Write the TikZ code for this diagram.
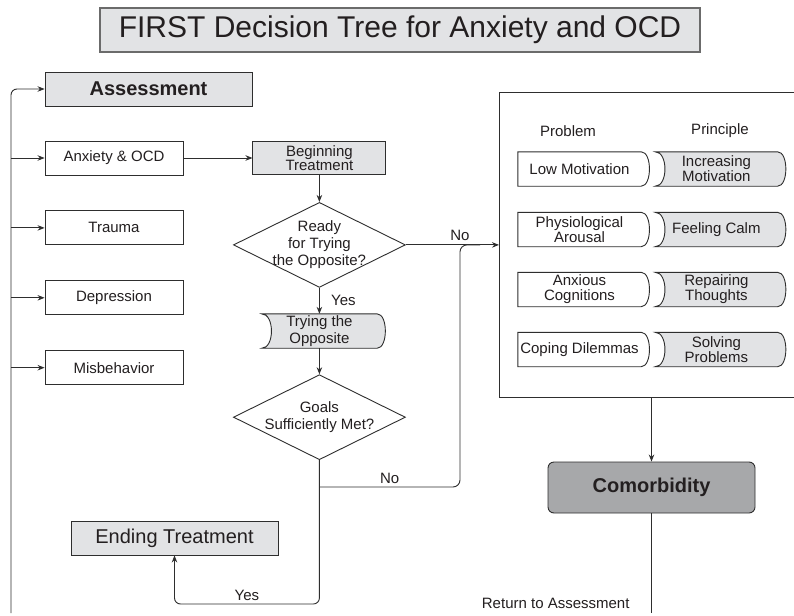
\documentclass[tikz,border=0pt]{standalone}
\usepackage{fontspec}
\setmainfont{Liberation Sans}
\usetikzlibrary{arrows.meta,positioning,shapes.geometric,backgrounds}

\definecolor{inkgray}{HTML}{231F20}
\definecolor{linegray}{HTML}{2E2E2E}
\definecolor{lightfill}{HTML}{E2E3E5}
\definecolor{darkfill}{HTML}{A7A8AA}

% outlines of the bowed boxes
\newcommand{\bowright}[1]{(#1.north west) -- (#1.north east)
    .. controls +(11,0) and +(11,0) .. (#1.south east)
    -- (#1.south west) -- cycle}
\newcommand{\bowboth}[1]{(#1.north west) -- (#1.north east)
    .. controls +(11,0) and +(11,0) .. (#1.south east)
    -- (#1.south west)
    .. controls +(13,0) and +(13,0) .. (#1.north west) -- cycle}

\begin{document}
\begin{tikzpicture}[
        x=1pt, y=-1pt,
        every node/.style={text=inkgray},
        lbl/.style={
            font=\fontsize{15pt}{17pt}\selectfont
        },
        line/.style={
            draw=linegray,
            line width=0.9pt
        },
        arr/.style={
            line,
            -{Stealth[length=7pt,width=5.5pt]}
        },
        box/.style={
            line,
            minimum width=138pt,
            minimum height=34pt,
            inner sep=1pt,
            align=center,
            lbl
        },
        hbox/.style={
            box,
            fill=lightfill
        },
        bigtext/.style={
            font=\fontsize{20pt}{24pt}\selectfont
        },
        decision/.style={
            diamond,
            line,
            minimum width=172pt,
            minimum height=85pt,
            inner sep=0pt
        },
        bowbox/.style={
            minimum width=123pt,
            minimum height=34pt,
            inner sep=1pt,
            align=center,
            font=\fontsize{15pt}{15pt}\selectfont
        },
        heading/.style={
            line width=1.6pt,
            draw=black!58,
            fill=lightfill,
            minimum width=600pt,
            minimum height=44pt,
            font=\fontsize{30pt}{36pt}\selectfont
        }
    ]

        \useasboundingbox (0,0) rectangle (794,615);

        \node[heading] (title) at (400,30)
            {FIRST Decision Tree for Anxiety and OCD};

        \node[hbox, bigtext, minimum width=207pt] (assess) at (148.5,89)
            {\bfseries Assessment};

        \node[box] (anx) at (114,158) {Anxiety \& OCD};
        \node[box, below=35pt of anx] (trauma) {Trauma};
        \node[box, below=35pt of trauma] (depr) {Depression};
        \node[box, below=35pt of depr] (misb) {Misbehavior};

        \node[hbox, right=69pt of anx, minimum width=133pt,
              minimum height=33pt, font=\fontsize{15pt}{14pt}\selectfont] (begin)
            {Beginning\\Treatment};

        \node[decision, below=27pt of begin,
              label={[align=center, lbl]center:Ready\\for Trying\\the Opposite?}] (ready) {};

        \node[bowbox, below=26pt of ready, minimum width=115pt,
              font=\fontsize{15pt}{17pt}\selectfont] (trying)
            {Trying the\\Opposite};

        \node[decision, below=26pt of trying,
              label={[align=center, lbl]center:Goals\\Sufficiently Met?}] (goals) {};

        \node[hbox, bigtext, minimum width=207pt] (ending) at (174.5,538)
            {Ending Treatment};

        % right panel
        \node[lbl] (probhead) at (568,131) {Problem};
        \node[lbl] (princhead) at (720,131) {Principle};

        \node[bowbox] (prob1) at (579.5,169) {Low Motivation};
        \node[bowbox] (prob2) at (579.5,229.5) {Physiological\\Arousal};
        \node[bowbox] (prob3) at (579.5,289.5) {Anxious\\Cognitions};
        \node[bowbox] (prob4) at (579.5,349.5) {Coping Dilemmas};

        \node[bowbox, right=14pt of prob1, minimum width=122pt] (princ1)
            {Increasing\\Motivation};
        \node[bowbox, right=14pt of prob2, minimum width=122pt] (princ2)
            {Feeling Calm};
        \node[bowbox, right=14pt of prob3, minimum width=122pt] (princ3)
            {Repairing\\Thoughts};
        \node[bowbox, right=14pt of prob4, minimum width=122pt] (princ4)
            {Solving\\Problems};

        \node[line, fill=darkfill, rounded corners=6pt, bigtext,
              minimum width=207pt, minimum height=51pt] (como) at (651.5,487.5)
            {\bfseries Comorbidity};

        \begin{scope}[on background layer]
            \fill[white] (0,0) rectangle (794,615);
            \foreach \n in {prob1,prob2,prob3,prob4}
                \draw[line, fill=white] \bowright{\n};
            \foreach \n in {trying,princ1,princ2,princ3,princ4}
                \draw[line, fill=lightfill] \bowboth{\n};
        \end{scope}

        \coordinate (loopL) at (11,613);
        \coordinate (panelNE) at (794,92);
        \coordinate (panelNW) at (499,92);
        \coordinate (panelSW) at (499,397);
        \coordinate (panelSE) at (794,397);
        \coordinate (nojoin) at (460,487);
        \coordinate (yesrow) at (0,604);

        % back to assessment
        \draw[arr, rounded corners=6pt] (loopL) |- (assess.west);
        \draw[arr] (loopL |- anx.west) -- (anx.west);
        \draw[arr] (loopL |- trauma.west) -- (trauma.west);
        \draw[arr] (loopL |- depr.west) -- (depr.west);
        \draw[arr] (loopL |- misb.west) -- (misb.west);

        \draw[arr] (anx) -- (begin);
        \draw[arr] (begin) -- (ready);
        \draw[arr] (ready) -- node[lbl, right=8pt] {Yes} (trying);
        \draw[arr] (trying) -- (goals);
        \draw[arr] (ready.east) -- node[lbl, above, pos=0.58] {No}
            (ready.east -| panelNW);

        \draw[line, rounded corners=7pt] (goals.south |- nojoin)
            -- node[lbl, above] {No} (nojoin)
            -- (nojoin |- ready.east) -- ++(20,0);

        \draw[arr, rounded corners=6pt] (goals.south) -- (goals.south |- yesrow)
            -| node[lbl, above, pos=0.25] {Yes} (ending.south);

        \draw[line] (panelNE) -- (panelNW) -- (panelSW) -- (panelSE);
        \draw[arr] (panelSW -| como.north) -- (como.north);

        \draw[line] (como.south) -- (como.south |- loopL);
        \node[lbl, anchor=east] (ret) at (633,603) {Return to Assessment};

    \end{tikzpicture}
\end{document}
